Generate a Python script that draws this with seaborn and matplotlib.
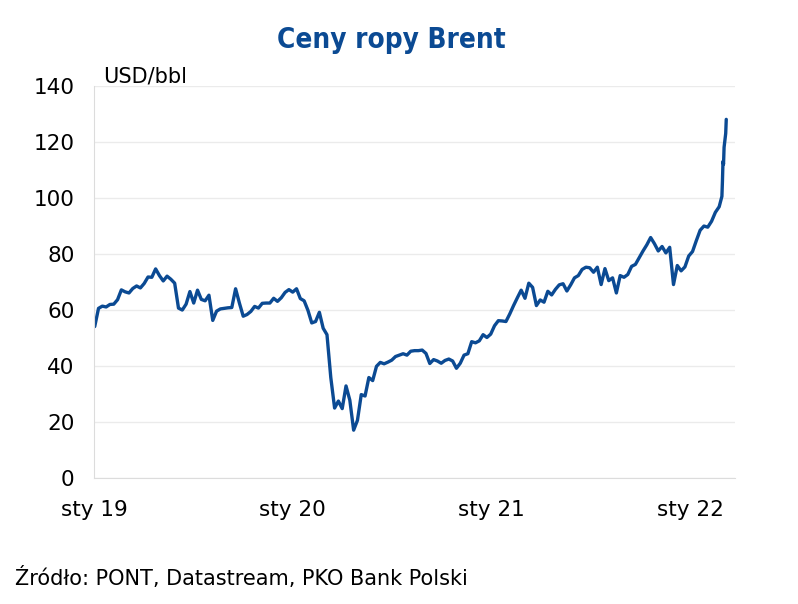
import pandas as pd
import numpy as np
import matplotlib
matplotlib.use("Agg")
import matplotlib.pyplot as plt
import seaborn as sns

# weekly Brent prices (USD/bbl), Wednesdays from 2 Jan 2019
prices_2019 = [54.0, 60.5, 61.3, 61.0, 61.9,
               62.0, 63.6, 67.1, 66.4,
               66.0, 67.6, 68.5, 67.8,
               69.4, 71.7, 71.6, 74.6,
               72.2, 70.3, 72.0, 70.9, 69.5,
               60.6, 59.9, 62.0, 66.5,
               62.4, 67.0, 63.7, 63.2, 65.2,
               56.2, 59.5, 60.3, 60.5,
               60.7, 60.8, 67.5, 62.4,
               57.7, 58.3, 59.4, 61.2, 60.6,
               62.3, 62.4, 62.4, 64.1,
               63.0, 64.3, 66.2, 67.2]
prices_2020 = [66.3, 67.5, 64.0, 63.2, 59.8,
               55.3, 55.8, 59.1, 53.4,
               51.1, 35.8, 24.9, 27.4,
               24.7, 32.8, 27.7, 17.0, 20.5,
               29.7, 29.2, 35.8, 34.7,
               39.8, 41.2, 40.7, 41.3,
               42.0, 43.3, 43.8, 44.3, 43.8,
               45.2, 45.4, 45.4, 45.6,
               44.4, 40.8, 42.2, 41.7, 40.9,
               41.9, 42.4, 41.7, 39.1,
               40.9, 43.8, 44.3, 48.6,
               48.2, 48.9, 51.1, 50.1, 51.3]
prices_2021 = [54.3, 56.1, 56.0, 55.8,
               58.5, 61.5, 64.3, 67.0,
               64.1, 69.5, 68.0, 61.5, 63.5,
               62.7, 66.6, 65.3, 67.3,
               68.9, 69.3, 66.7, 68.9,
               71.4, 72.2, 74.4, 75.2, 75.0,
               73.4, 75.2, 69.0, 74.7,
               70.4, 71.4, 66.0, 72.2,
               71.6, 72.6, 75.5, 76.2, 78.6,
               81.0, 83.2, 85.8, 83.6,
               81.0, 82.6, 80.3, 82.3,
               69.0, 75.8, 73.9, 75.3, 79.2]
prices_2022 = [80.8, 84.7, 88.4, 89.9,
               89.5, 91.6, 94.8, 96.8]

# daily points of the March 2022 jump
march_dates = ["2022-02-28", "2022-03-01", "2022-03-02", "2022-03-03",
               "2022-03-04", "2022-03-07", "2022-03-08"]
march_prices = [100.5, 106.0, 113.0, 112.0, 118.0, 123.0, 128.0]

tick_dates = ["2019-01-01", "2020-01-01", "2021-01-01", "2022-01-01"]
tick_labels = ["sty 19", "sty 20", "sty 21", "sty 22"]

weekly = prices_2019 + prices_2020 + prices_2021 + prices_2022
dates = list(pd.date_range("2019-01-02", periods=len(weekly), freq="W-WED")) + list(pd.to_datetime(march_dates))
df = pd.DataFrame({"date": dates, "price": weekly + march_prices})

sns.set_style("white")
plt.rcParams["font.family"] = ["DejaVu Sans"]
plt.rcParams["text.color"] = "black"

blue = "#0b4a93"
fig = plt.figure(figsize=(7.98, 6.04), dpi=100)
ax = fig.add_axes([0.118, 0.209, 0.803, 0.649])

sns.lineplot(data=df, x="date", y="price", color=blue, linewidth=2.4, ax=ax)

ax.set_ylim(0, 140)
ax.set_yticks(range(0, 141, 20))
ax.set_xlim(pd.Timestamp("2019-01-01"), pd.Timestamp("2022-03-24"))
ax.set_xticks(pd.to_datetime(tick_dates))
ax.set_xticklabels(tick_labels)
ax.grid(axis="y", color="#ebebeb", linewidth=1)
ax.set_axisbelow(True)
for s in ["top", "right"]:
    ax.spines[s].set_visible(False)
for s in ["left", "bottom"]:
    ax.spines[s].set_color("#dcdcdc")
ax.tick_params(axis="both", length=0, labelsize=15.5, colors="black")
ax.tick_params(axis="y", pad=14)
ax.tick_params(axis="x", pad=16)
ax.set_xlabel("")
ax.set_ylabel("")

fig.text(0.491, 0.933, "Ceny ropy Brent", ha="center", va="center",
         fontsize=20, color=blue, fontweight="bold", fontstretch="condensed")
fig.text(0.129, 0.873, "USD/bbl", ha="left", va="center", fontsize=15, color="black")
fig.text(0.019, 0.043, "Źródło: PONT, Datastream, PKO Bank Polski",
         ha="left", va="center", fontsize=15, color="black")

fig.savefig("out.png", dpi=100)
